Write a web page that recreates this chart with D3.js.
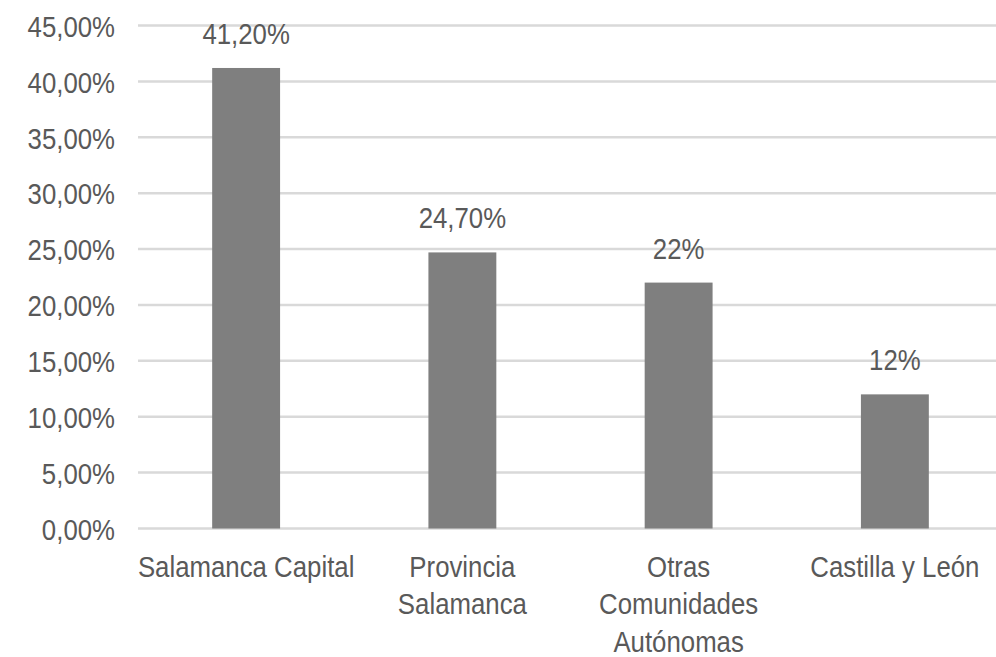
<!DOCTYPE html>
<html>
<head>
<meta charset="utf-8">
<script src="https://cdn.jsdelivr.net/npm/d3@7"></script>
<style>
  html, body { margin: 0; padding: 0; background: #fff; }
  svg { display: block; }
  text { font-family: "Liberation Sans Narrow", "Arial Narrow", "Liberation Sans", Arial, sans-serif; fill: #595959; }
</style>
</head>
<body>
<svg id="chart" width="996" height="657"></svg>
<script>
const categories = ["Salamanca Capital", "Provincia Salamanca", "Otras Comunidades Autónomas", "Castilla y León"];
const categoryLines = [["Salamanca Capital"], ["Provincia", "Salamanca"], ["Otras", "Comunidades", "Autónomas"], ["Castilla y León"]];
const values = [0.412, 0.247, 0.22, 0.12];
const valueLabels = ["41,20%", "24,70%", "22%", "12%"];
const yTicks = [0, 0.05, 0.10, 0.15, 0.20, 0.25, 0.30, 0.35, 0.40, 0.45];

const svg = d3.select("#chart");
const W = 996, H = 657;
const plotLeft = 138, plotRight = 1003, plotTop = 25.5, plotBottom = 528.5;
const fontSize = 30;
const sx = 0.86; // horizontal condensing to mimic a narrow face

const locale = d3.formatLocale({decimal: ",", thousands: ".", grouping: [3], currency: ["", "€"]});
const pct = locale.format(".2%");

const x = d3.scaleBand().domain(categories).range([plotLeft, plotRight]).paddingInner(0.686).paddingOuter(0.343);
const y = d3.scaleLinear().domain([0, 0.45]).range([plotBottom, plotTop]);

// gridlines
svg.append("g").selectAll("line").data(yTicks).join("line")
  .attr("x1", plotLeft).attr("x2", W)
  .attr("y1", d => y(d)).attr("y2", d => y(d))
  .attr("stroke", "#d9d9d9").attr("stroke-width", 2.5);

// y axis
const yAxis = svg.append("g").attr("transform", `translate(${plotLeft},0)`)
  .call(d3.axisLeft(y).tickValues(yTicks).tickFormat(pct).tickSize(0).tickPadding(23));
yAxis.select(".domain").remove();
yAxis.selectAll("text")
  .style("font-size", fontSize + "px")
  .attr("fill", "#595959")
  .style("font-family", '"Liberation Sans Narrow", "Arial Narrow", "Liberation Sans", Arial, sans-serif')
  .attr("x", -23 / sx)
  .attr("dy", "0.36em")
  .attr("transform", `scale(${sx},1)`);

// bars
svg.append("g").selectAll("rect").data(values).join("rect")
  .attr("x", (d, i) => x(categories[i]))
  .attr("width", x.bandwidth())
  .attr("y", d => y(d))
  .attr("height", d => y(0) - y(d))
  .attr("fill", "#7f7f7f");

// value labels
svg.append("g").selectAll("text").data(values).join("text")
  .attr("transform", (d, i) => `translate(${x(categories[i]) + x.bandwidth() / 2},${y(d) - 24}) scale(${sx},1)`)
  .attr("text-anchor", "middle")
  .style("font-size", fontSize + "px")
  .text((d, i) => valueLabels[i]);

// x axis labels
const xg = svg.append("g").selectAll("text").data(categories).join("text")
  .attr("text-anchor", "middle")
  .style("font-size", fontSize + "px")
  .attr("transform", d => `translate(${x(d) + x.bandwidth() / 2},577) scale(${sx},1)`);
xg.each(function(d, i) {
  const t = d3.select(this);
  categoryLines[i].forEach((ln, j) => {
    t.append("tspan").attr("x", 0).attr("y", j * 37.5).text(ln);
  });
});
</script>
</body>
</html>
